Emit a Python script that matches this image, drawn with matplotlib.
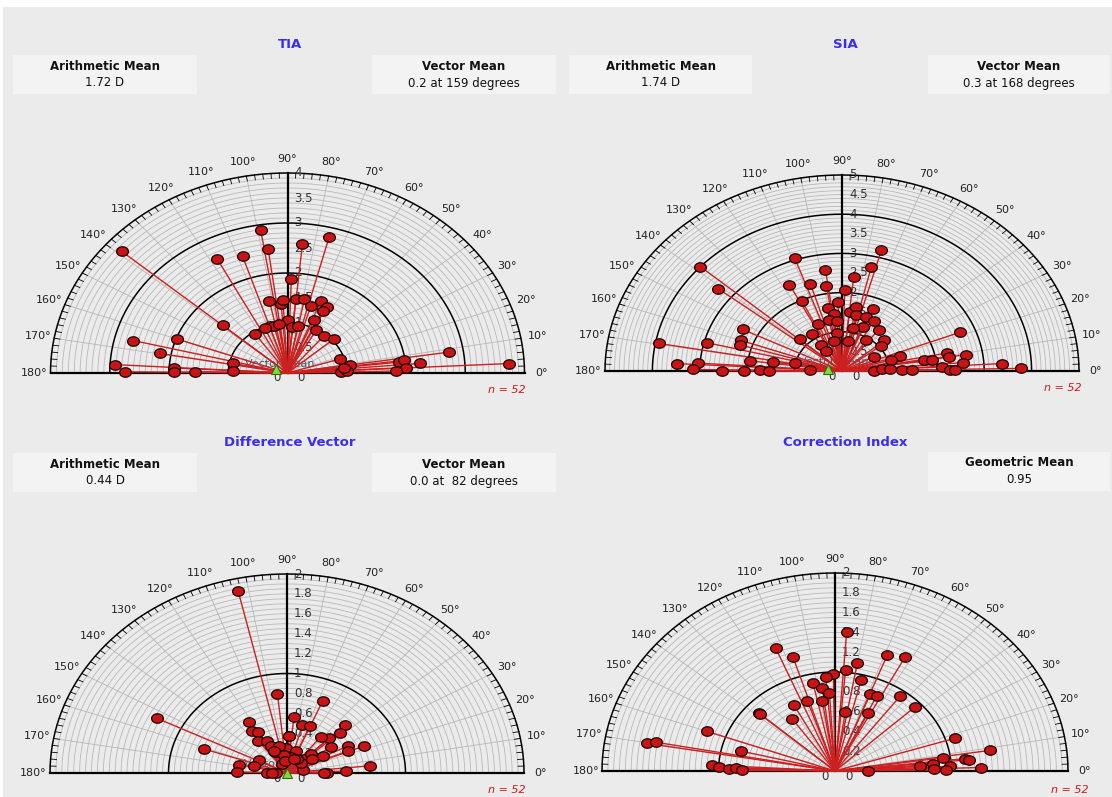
import numpy as np
import matplotlib
matplotlib.use("Agg")
import matplotlib.pyplot as plt
from matplotlib.path import Path
from matplotlib.patches import Rectangle

W, H = 1112, 797

# magnitude (D) and axis (degrees) of every eye
tia_mag = [3.71, 2.89, 2.50, 2.59, 2.81, 2.56, 2.45, 1.88, 1.48, 1.39, 1.47, 1.48, 1.50,
           1.54, 1.48, 1.37, 1.05, 1.14, 0.98, 0.96, 0.98, 0.92, 0.95, 0.96, 1.45, 0.98,
           0.97, 1.05, 2.68, 1.98, 2.19, 2.92, 2.75, 1.92, 1.92, 1.56, 0.94, 0.92, 0.93,
           1.07, 0.90, 1.01, 2.76, 1.90, 1.99, 2.24, 2.01, 1.84, 3.75, 0.98, 0.96, 1.39]
tia_axis = [139, 99, 97.5, 84.4, 75.5, 117.5, 108, 88, 102, 94.5, 93, 84.6, 79,
            68.6, 63.4, 64.4, 90, 67.3, 108, 103.6, 113, 85, 79.6, 125, 139, 60.5,
            50.4, 41, 166, 160, 169.7, 176.7, 179.5, 177, 179.5, 179, 168.3, 177.5, 17.5,
            9, 1.3, 2.8, 8.7, 6.6, 7.3, 4.9, 3.1, 1.2, 2.9, 98, 6, 73.6]

sia_mag = [4.00, 3.35, 3.93, 2.94, 2.35, 2.27, 2.26, 3.49, 3.04, 3.15, 2.54, 2.06, 1.96,
           1.48, 1.73, 1.55, 1.01, 0.67, 3.06, 2.61, 2.47, 2.33, 2.20, 2.06, 2.41, 2.73,
           3.19, 1.98, 1.76, 1.64, 1.52, 1.66, 1.71, 1.46, 1.45, 1.47, 1.44, 1.31, 1.34,
           1.27, 1.21, 1.31, 1.14, 0.98, 1.11, 1.21, 0.78, 0.78, 0.94, 1.19, 0.79, 0.61,
           1.03, 2.67, 1.29, 0.76, 1.06, 1.75, 1.92, 2.27, 2.28, 2.64, 2.57, 3.39, 3.78,
           2.11, 2.27, 0.67, 0.85, 1.01, 1.27, 1.48, 2.38]
sia_axis = [138.3, 141.2, 169.7, 165.8, 153.2, 159.9, 162.8, 176.9, 176.2, 179.3, 179.8, 179.8, 172.4,
            171, 179.4, 179.8, 168, 178.3, 109.1, 97.7, 116.7, 106.7, 98.6, 88.4, 84.1, 76.9,
            74.9, 115.4, 92.7, 100.6, 84, 79.6, 67.6, 97, 78, 69.7, 62.4, 112.9, 102.1,
            94.8, 68.5, 53.9, 123.6, 96.3, 78, 137.7, 103, 81.1, 56.8, 41.2, 123.7, 123,
            37.9, 21.6, 17.3, 28.2, 14.9, 9.5, 8.2, 11.7, 9, 9.1, 4.8, 3.2, 1,
            2.8, 0.8, 0.3, 4, 3, 1.5, 1.1, 0.5]

dv_mag = [1.87, 1.23, 0.80, 0.78, 0.74, 0.57, 0.50, 0.51, 0.69, 0.60, 0.50, 0.46, 0.60,
          0.52, 0.48, 0.40, 0.36, 0.30, 0.23, 0.37, 0.25, 0.23, 0.20, 0.28, 0.35, 0.58,
          0.56, 0.70, 0.70, 0.50, 0.34, 0.14, 0.15, 0.16, 0.10, 0.18, 0.27, 0.29, 0.41,
          0.42, 0.17, 0.09, 0.16, 0.28, 0.37, 0.25, 0.31, 0.12, 0.25, 0.15, 0.13, 0.45]
dv_axis = [102.7, 153.4, 95.8, 67.4, 161, 84, 75, 67.9, 44.4, 42.3, 44.2, 52, 122.2,
           124.9, 120.3, 127, 118, 117.4, 115, 88, 92, 70, 45, 43.5, 28.7, 27.9,
           23.3, 22.6, 5.9, 2.3, 0.5, 12, 40, 79, 114, 99, 151.6, 166, 168.7,
           178.6, 179, 179, 58, 104.5, 87, 33.7, 0.5, 97, 115.6, 66, 179.5, 35]

ci_mag = [1.41, 1.34, 1.21, 1.11, 1.25, 1.30, 1.02, 0.98, 0.95, 0.95, 0.91, 0.85, 0.79,
          0.83, 0.84, 0.94, 0.75, 0.72, 0.75, 0.94, 0.88, 0.86, 0.64, 0.60, 0.65, 1.17,
          1.64, 1.56, 0.83, 1.06, 1.00, 0.91, 0.85, 0.80, 1.08, 1.35, 0.94, 1.12, 1.16,
          0.84, 0.73, 0.99, 1.25, 0.95, 0.28, 0.85]
ci_axis = [85.9, 112.3, 107.4, 80, 69, 62.4, 84.9, 90.8, 94.8, 76.3, 102, 97.5, 93.5,
           68.7, 64.7, 53.5, 108.5, 98.8, 117.9, 43.3, 138.2, 138.3, 124.9, 81.5, 64, 160,
           170.2, 169.3, 166, 176.8, 177.7, 178.7, 178, 179.5, 17.8, 8.9, 8.2, 6.4, 5.7,
           4.6, 3.7, 2.7, 1.6, 0.7, 0.3, 1.6]

tia_vmean = (0.2, 159)
sia_vmean = (0.3, 168)
dv_vmean = (0.0, 82)

BG = '#ebebeb'
BOX = '#f3f3f3'
GRID = '#b8b8b8'
RED = '#cc1f1f'
TITLE_BLUE = '#3a2cf0'

th = np.linspace(0, 2 * np.pi, 41)
dot = Path(np.column_stack([np.cos(th), 0.8 * np.sin(th)]), closed=True)


def polar_panel(fig, cx, cy, rx, ry, rmax, minor, lab_step, mags, angs, vmean=None):
    # stretched half-polar plot drawn on plain axes, origin at pixel (cx, cy)
    x0, x1 = cx - rx * 1.22, cx + rx * 1.22
    y0, y1 = cy - ry * 1.2, cy + 24
    ax = fig.add_axes([x0 / W, 1 - y1 / H, (x1 - x0) / W, (y1 - y0) / H])
    sx, sy = rx / rmax, ry / rmax
    ax.set_xlim((x0 - cx) / sx, (x1 - cx) / sx)
    ax.set_ylim((cy - y1) / sy, (cy - y0) / sy)
    ax.axis('off')

    t = np.linspace(0, np.pi, 361)
    n_minor = int(round(rmax / minor))
    for i in range(1, n_minor + 1):
        r = i * minor
        major = abs(r - round(r)) < 1e-6
        ax.plot(r * np.cos(t), r * np.sin(t),
                color='black' if major else GRID,
                lw=1.1 if major else 0.6, zorder=2 if major else 1)
    for d in range(0, 181, 10):
        a = np.radians(d)
        ax.plot([0, rmax * np.cos(a)], [0, rmax * np.sin(a)], color=GRID, lw=0.6, zorder=1)
        ax.text(1.07 * rmax * np.cos(a), 1.07 * rmax * np.sin(a), f'{d}°',
                ha='center', va='center', fontsize=8, color='#222222')
    for d in range(0, 181, 2):
        a = np.radians(d)
        ax.plot([0.975 * rmax * np.cos(a), rmax * np.cos(a)],
                [0.975 * rmax * np.sin(a), rmax * np.sin(a)], color='black', lw=0.6, zorder=2)

    ax.plot([-rmax, rmax], [0, 0], color='black', lw=1.6, zorder=3)
    ax.plot([0, 0], [0, rmax], color='black', lw=1.6, zorder=3)
    n_lab = int(round(rmax / lab_step))
    for i in range(1, n_lab + 1):
        r = i * lab_step
        ax.text(7 / sx, r, f'{r:g}', ha='left', va='center', fontsize=8.5, color='#333333', zorder=4)
    ax.text(10 / sx, -5 / sy, '0', ha='left', va='center', fontsize=8.5, color='#333333')
    ax.text(-14 / sx, -5 / sy, '0', ha='left', va='center', fontsize=8.5, color='#333333')

    if vmean is not None:
        ax.text(-8 / sx, 9 / sy, 'Vector Mean', ha='center', va='center',
                fontsize=8, color='#4a5670', zorder=4)

    a = np.radians(angs)
    xs = np.asarray(mags) * np.cos(a)
    ys = np.asarray(mags) * np.sin(a)
    for x, y in zip(xs, ys):
        ax.plot([0, x], [0, y], color=RED, lw=1.0, zorder=5)
    ax.plot(xs, ys, ls='none', marker=dot, ms=8.5, mfc='#c81414', mec='#1a0000', mew=0.9, zorder=6)

    if vmean is not None:
        va = np.radians(vmean[1])
        ax.plot(vmean[0] * np.cos(va), vmean[0] * np.sin(va), marker='^', ms=7,
                mfc='#7ddc3a', mec='#2f6a10', mew=0.8, ls='none', zorder=7)
    return ax


def header_box(fig, x0, x1, y0, y1, label, value):
    fig.add_artist(Rectangle((x0 / W, 1 - y1 / H), (x1 - x0) / W, (y1 - y0) / H,
                             transform=fig.transFigure, facecolor=BOX, edgecolor='none', zorder=0))
    xc = (x0 + x1) / 2
    fig.text(xc / W, 1 - (y0 + 11) / H, label, ha='center', va='center',
             fontsize=8.5, fontweight='bold', color='#111111')
    fig.text(xc / W, 1 - (y0 + 28) / H, value, ha='center', va='center',
             fontsize=8.5, color='#111111')


def ptext(fig, x, y, s, **kw):
    fig.text(x / W, 1 - y / H, s, **kw)


fig = plt.figure(figsize=(W / 100, H / 100), dpi=100)
fig.patch.set_facecolor('white')
fig.add_artist(Rectangle((3 / W, 0), 1, 1 - 7 / H, transform=fig.transFigure,
                         facecolor=BG, edgecolor='none', zorder=-1))

# headers
ptext(fig, 290, 45, 'TIA', ha='center', va='center', fontsize=9.5, fontweight='bold', color=TITLE_BLUE)
header_box(fig, 13, 197, 55, 94, 'Arithmetic Mean', '1.72 D')
header_box(fig, 372, 556, 55, 94, 'Vector Mean', '0.2 at 159 degrees')

ptext(fig, 845, 45, 'SIA', ha='center', va='center', fontsize=9.5, fontweight='bold', color=TITLE_BLUE)
header_box(fig, 569, 752, 55, 94, 'Arithmetic Mean', '1.74 D')
header_box(fig, 928, 1110, 55, 94, 'Vector Mean', '0.3 at 168 degrees')

ptext(fig, 290, 442, 'Difference Vector', ha='center', va='center', fontsize=9.5,
      fontweight='bold', color=TITLE_BLUE)
header_box(fig, 13, 197, 453, 492, 'Arithmetic Mean', '0.44 D')
header_box(fig, 372, 556, 453, 492, 'Vector Mean', '0.0 at  82 degrees')

ptext(fig, 845, 442, 'Correction Index', ha='center', va='center', fontsize=9.5,
      fontweight='bold', color=TITLE_BLUE)
header_box(fig, 928, 1110, 452, 491, 'Geometric Mean', '0.95')

# polar panels
polar_panel(fig, 287.5, 373, 237, 200, 4, 0.1, 0.5, tia_mag, tia_axis, tia_vmean)
polar_panel(fig, 842, 371, 237, 196, 5, 0.1, 0.5, sia_mag, sia_axis, sia_vmean)
polar_panel(fig, 287, 773, 237, 199, 2, 0.05, 0.2, dv_mag, dv_axis, dv_vmean)
polar_panel(fig, 835, 771, 233, 198, 2, 0.05, 0.2, ci_mag, ci_axis)

for x, y in [(507, 390), (1063, 388), (507, 790), (1070, 790)]:
    ptext(fig, x, y, 'n = 52', ha='center', va='center', fontsize=8,
          style='italic', color='#d01818')

fig.savefig('out.png', dpi=100, facecolor=fig.get_facecolor())
